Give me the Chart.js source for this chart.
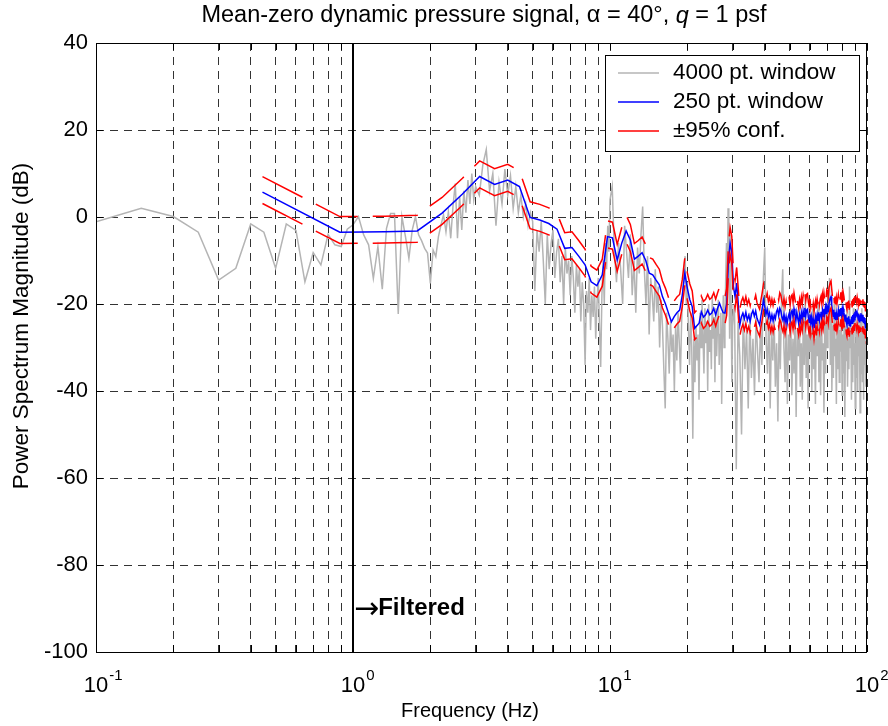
<!DOCTYPE html>
<html>
<head>
<meta charset="utf-8">
<script src="https://cdn.jsdelivr.net/npm/chart.js@4.4.1/dist/chart.umd.min.js"></script>
<style>
  html, body { margin: 0; padding: 0; background: #fff; }
  #wrap { width: 888px; height: 726px; }
</style>
</head>
<body>
<div id="wrap"><canvas id="psd" width="888" height="726"></canvas></div>
<script>
// x axis ticks (Hz) and the decade labels
const xTicks = [0.1, 0.2, 0.3, 0.4, 0.5, 0.6, 0.7, 0.8, 0.9,
  1, 2, 3, 4, 5, 6, 7, 8, 9, 10, 20, 30, 40, 50, 60, 70, 80, 90, 100];
const decadeTicks = [0.1, 1, 10, 100];
const decadeExp = ['-1', '0', '1', '2'];

// 250 pt. window spectrum (dB), one value per bin, bin k at k * coarseStep Hz
const coarseStep = 0.4444;
const coarseDb = [
  5.7, -3.5, -3.4, -3.2, 0.9, 5.3, 9.3, 7.5, 8.5, 7.0,
  -0.1, -0.7, -1.5, -2.8, -7.2, -7.0, -9.0, -11.0, -14.9, -15.8,
  -13.3, -4.5, -4.8, -9.9, -6.0, -3.2, -5.3, -9.7, -9.0, -8.2,
  -10.0, -12.9, -13.3, -14.5, -15.6, -18.3, -20.0, -22.1, -24.1, -22.9,
  -22.0, -21.4, -18.0, -12.9, -16.4, -19.0, -20.6, -25.6, -25.0, -24.4,
  -21.8, -23.0, -22.5, -21.4, -22.5, -22.1, -21.0, -22.5, -21.0, -19.8,
  -21.0, -22.0, -22.1, -20.0, -10.0, -6.0, -8.0, -16.0, -18.3, -15.2, -20.0,
  -24.8, -23.0, -22.1, -23.4, -21.9, -23.7, -22.6, -24.0, -22.3, -21.5,
  -22.8, -21.6, -23.3, -24.1, -24.8, -22.7, -21.0, -19.1, -20.6, -22.4,
  -21.2, -23.0, -22.1, -23.8, -22.5, -23.9, -22.6, -23.4, -21.8, -21.2,
  -22.7, -21.0, -21.6, -23.0, -23.8, -22.4, -24.3, -22.9, -24.6, -23.0,
  -22.2, -23.9, -21.9, -21.5, -23.2, -21.1, -22.5, -23.8, -21.9, -23.3,
  -24.5, -22.6, -23.9, -22.0, -23.4, -21.6, -22.9, -20.9, -22.8, -21.4,
  -21.2, -23.1, -24.2, -22.4, -24.4, -23.0, -24.9, -23.5, -25.4, -23.7,
  -22.8, -24.6, -22.6, -23.9, -21.9, -23.7, -22.4, -21.8, -23.3, -21.5,
  -22.9, -21.1, -22.5, -20.8, -22.2, -20.3, -20.6, -21.8, -19.9, -19.2,
  -18.6, -18.3, -20.1, -21.7, -22.8, -21.3, -23.5, -21.9, -23.7, -22.2,
  -23.5, -22.6, -21.5, -23.0, -21.2, -22.6, -20.9, -22.4, -21.3, -23.1,
  -21.1, -21.9, -23.2, -23.9, -22.4, -24.2, -24.8, -23.1, -24.5, -22.8,
  -24.9, -23.5, -25.2, -24.1, -22.9, -24.4, -22.5, -24.0, -22.2, -23.6,
  -21.8, -23.2, -21.5, -22.9, -22.0, -22.8, -23.7, -22.3, -24.1, -22.6,
  -23.8, -22.1, -23.4, -22.4, -23.9, -22.5, -24.2, -23.0, -24.5, -23.2,
  -25.4, -24.0, -26.5, -26.7
];

// 95% confidence limits sit a fixed number of dB around the 250 pt. spectrum
const confUpperDb = 3.6;
const confLowerDb = -2.6;

// 4000 pt. window spectrum (dB), read in four pieces: start Hz, step Hz, values
const fineDbA = [ // 0.10 .. 3.00 Hz
  -1.1, 2.0, 0.1, -3.5, -14.5, -11.8, -1.6, -3.5, -11.8, -1.6,
  -3.1, -14.9, -8.2, -11.0, -4.0, -6.4, -6.8, -2.8, -1.8, 0.1,
  -4.1, -6.4, -14.1, -6.8, -16.6, -2.6, 0.8, 0.8, -22.3, 0.1,
  -4.5, -9.5, -3.0, 0.1, -4.1, -5.5, -7.2, -8.3, -15.3, -7.6,
  -9.1, -4.5, -1.8, 0.5, -3.4, 1.2, -4.9, 2.5, 7.7, -4.9,
  4.7, -3.0, 6.0, 1.0, 8.5, 3.0, 10.0, 4.0, 7.0
];
const fineDbB = [ // 3.1 .. 10.0 Hz
  5.0, 12.0, 15.5, 6.0, 10.0, -2.0, 8.0, 3.0, 11.0, 5.0,
  9.5, 2.0, 7.0, 1.0, 5.0, 0.0, 3.0, -2.0, 1.0, -1.0,
  -17.0, -3.0, -8.0, -1.0, -10.0, -20.0, -4.0, -12.0, -6.0, -3.0,
  -14.0, -8.0, -5.0, -15.0, -9.0, -20.0, -7.0, -13.0, -10.0, -18.0,
  -9.0, -14.0, -22.0, -11.0, -16.0, -12.0, -24.0, -15.0, -20.0, -34.0,
  -17.0, -22.0, -14.0, -26.0, -18.0, -23.0, -16.0, -28.0, -20.0, -14.0,
  -25.0, -34.5, -18.0, -10.0, -20.0, -6.0, -12.0, -2.0, -8.0, 4.0
];
const fineDbC = [ // 10.2 .. 30.0 Hz
  7.0, -8.0, -15.0, -6.0, -12.0, -20.0, -2.0, -8.0, -14.0, -4.0,
  -18.0, -10.0, -22.0, -7.0, -13.0, -4.0, 2.4, -12.0, -20.0, -9.0,
  -27.0, -14.0, -18.0, -24.0, -12.0, -22.0, -16.0, -30.0, -19.0, -25.0,
  -35.0, -44.0, -22.0, -28.0, -36.0, -24.0, -31.0, -27.0, -40.0, -25.0,
  -33.0, -22.0, -29.0, -36.0, -24.0, -17.0, -12.0, -9.0, -20.0, -15.0,
  -26.0, -34.0, -22.0, -30.0, -51.0, -28.0, -38.0, -25.0, -33.0, -27.0,
  -42.0, -22.0, -30.0, -19.0, -27.0, -36.0, -21.0, -29.0, -24.0, -40.0,
  -20.0, -31.0, -26.0, -35.0, -18.0, -28.0, -23.0, -38.0, -21.0, -32.0,
  -25.0, -19.0, -34.0, -27.0, -22.0, -43.0, -26.0, -18.0, -30.0, -24.0,
  -14.0, -6.0, -18.0, 2.0, -8.0, -28.0, -4.0, -20.0, -38.0, -25.0
];
const fineDbD = [ // 30.5 .. 100 Hz
  -20, -58, -24, -32, -50, -22, -35, -26, -44, -22,
  -37, -28, -41, -23, -31, -38, -25, -34, -14, -7,
  -28, -36, -21, -44, -26, -33, -23, -39, -29, -47,
  -24, -35, -19, -12, -30, -38, -23, -43, -27, -33,
  -21, -41, -28, -36, -23, -46, -26, -32, -20, -39,
  -29, -42, -23, -34, -18, -37, -27, -44, -22, -31,
  -25, -40, -21, -35, -28, -43, -23, -32, -20, -38,
  -26, -41, -22, -33, -29, -45, -24, -36, -21, -30,
  -17, -26, -14, -34, -22, -40, -25, -37, -20, -32,
  -28, -43, -23, -35, -20, -38, -26, -31, -21, -41,
  -27, -36, -23, -46, -25, -33, -21, -39, -28, -35,
  -16, -30, -24, -42, -26, -38, -21, -34, -29, -44,
  -23, -37, -25, -40, -22, -32, -27, -45, -24, -36,
  -21, -38, -26, -42, -24, -34, -29, -39, -27, -37
];
const fineBands = [[0.10, 0.05, fineDbA], [3.1, 0.1, fineDbB], [10.2, 0.2, fineDbC], [30.5, 0.5, fineDbD]];

// filter marker
const filterFreq = 1;
const filterLabelDb = -90;

const FONT = '"Liberation Sans", Arial, Helvetica, sans-serif';
const fineColor = '#b4b4b4';
const coarseColor = '#0000ff';
const confColor = '#ff0000';

const finePts = [];
fineBands.forEach(([start, step, vals]) => {
  vals.forEach((v, i) => finePts.push({x: +(start + i * step).toFixed(4), y: v}));
});
const coarsePts = coarseDb.map((v, i) => ({x: (i + 1) * coarseStep, y: v}));
const upperPts = coarsePts.map(p => ({x: p.x, y: p.y + confUpperDb}));
const lowerPts = coarsePts.map(p => ({x: p.x, y: p.y + confLowerDb}));
const filterPts = [{x: filterFreq, y: -100}, {x: filterFreq, y: 40}];

const legendRows = [
  ['4000 pt. window', fineColor],
  ['250 pt. window', coarseColor],
  ['\u00b195% conf.', confColor]
];

const lineDefaults = {pointRadius: 0, pointHoverRadius: 0, tension: 0, fill: false};

const decorations = {
  id: 'decorations',
  afterDraw(chart) {
    const {ctx, chartArea: area, scales: {x, y}} = chart;
    ctx.save();

    // frame with inward ticks
    ctx.strokeStyle = '#000';
    ctx.lineWidth = 1;
    ctx.strokeRect(Math.round(area.left) + 0.5, Math.round(area.top) + 0.5,
      Math.round(area.right - area.left) - 1, Math.round(area.bottom - area.top));
    ctx.beginPath();
    xTicks.forEach(v => {
      const px = Math.round(x.getPixelForValue(v)) + 0.5;
      ctx.moveTo(px, area.bottom); ctx.lineTo(px, area.bottom - 7);
      ctx.moveTo(px, area.top); ctx.lineTo(px, area.top + 7);
    });
    for (let v = -100; v <= 40; v += 20) {
      const py = Math.round(y.getPixelForValue(v)) + 0.5;
      ctx.moveTo(area.left, py); ctx.lineTo(area.left + 7, py);
      ctx.moveTo(area.right, py); ctx.lineTo(area.right - 7, py);
    }
    ctx.stroke();

    // x decade labels 10^n
    ctx.fillStyle = '#000';
    decadeTicks.forEach((v, i) => {
      const px = x.getPixelForValue(v);
      ctx.font = '22px ' + FONT;
      ctx.textAlign = 'center';
      ctx.textBaseline = 'alphabetic';
      ctx.fillText('10', px, 692);
      const w = ctx.measureText('10').width;
      ctx.font = '15px ' + FONT;
      ctx.textAlign = 'left';
      ctx.fillText(decadeExp[i], px + w / 2 + 1, 680);
    });

    // axis titles
    ctx.textAlign = 'center';
    ctx.textBaseline = 'middle';
    ctx.font = '20px ' + FONT;
    ctx.fillText('Frequency (Hz)', 470, 711);
    ctx.font = '22.5px ' + FONT;
    ctx.save();
    ctx.translate(22, 326);
    ctx.rotate(-Math.PI / 2);
    ctx.fillText('Power Spectrum Magnitude (dB)', 0, 0);
    ctx.restore();

    // title with italic q
    const tf = '23.5px ' + FONT;
    const parts = [
      ['Mean-zero dynamic pressure signal, ', tf],
      ['\u03b1', tf],
      [' = 40\u00b0, ', tf],
      ['q', 'italic ' + tf],
      [' = 1 psf', tf]
    ];
    let total = 0;
    parts.forEach(p => { ctx.font = p[1]; total += ctx.measureText(p[0]).width; });
    let tx = 484 - total / 2;
    ctx.textAlign = 'left';
    parts.forEach(p => { ctx.font = p[1]; ctx.fillText(p[0], tx, 16); tx += ctx.measureText(p[0]).width; });

    // filtered marker text: arrow in DejaVu (full size glyph), word in bold sans
    const fx = x.getPixelForValue(filterFreq) + 1;
    const fy = y.getPixelForValue(filterLabelDb);
    ctx.font = '30px "DejaVu Sans", sans-serif';
    ctx.fillText('\u2192', fx, fy + 2);
    const aw = ctx.measureText('\u2192').width;
    ctx.font = 'bold 24px ' + FONT;
    ctx.fillText('Filtered', fx + aw - 1, fy);

    // legend box
    const lx = area.right - 262, ly = area.top + 12, lw = 254, lh = 96;
    ctx.fillStyle = '#fff';
    ctx.fillRect(lx, ly, lw, lh);
    ctx.strokeStyle = '#000';
    ctx.lineWidth = 1;
    ctx.strokeRect(lx + 0.5, ly + 0.5, lw, lh);
    ctx.font = '22.5px ' + FONT;
    ctx.textBaseline = 'middle';
    legendRows.forEach(([label, color], i) => {
      const ry = ly + 18 + i * 29;
      ctx.strokeStyle = color;
      ctx.lineWidth = 1.6;
      ctx.beginPath();
      ctx.moveTo(lx + 13, ry);
      ctx.lineTo(lx + 54, ry);
      ctx.stroke();
      ctx.fillStyle = '#000';
      ctx.fillText(label, lx + 68, ry);
    });

    ctx.restore();
  }
};

new Chart(document.getElementById('psd'), {
  type: 'line',
  data: {
    datasets: [
      {...lineDefaults, label: 'filter', data: filterPts, borderColor: '#000', borderWidth: 2, order: 0},
      {...lineDefaults, label: '+95% conf.', data: upperPts, borderColor: confColor, borderWidth: 1.5, borderDash: [45, 15], order: 1},
      {...lineDefaults, label: '-95% conf.', data: lowerPts, borderColor: confColor, borderWidth: 1.5, borderDash: [45, 15], order: 1},
      {...lineDefaults, label: '250 pt. window', data: coarsePts, borderColor: coarseColor, borderWidth: 1.5, order: 2},
      {...lineDefaults, label: '4000 pt. window', data: finePts, borderColor: fineColor, borderWidth: 1.5, order: 3}
    ]
  },
  options: {
    responsive: false,
    animation: false,
    events: [],
    layout: {padding: {top: 43, right: 21, left: 0, bottom: 0}},
    plugins: {legend: {display: false}, title: {display: false}, tooltip: {enabled: false}},
    scales: {
      x: {
        type: 'logarithmic',
        min: 0.1,
        max: 100,
        afterBuildTicks: s => { s.ticks = xTicks.map(v => ({value: v})); },
        afterFit: s => { s.height = 74; },
        ticks: {display: false},
        grid: {color: 'rgba(0,0,0,0.8)', lineWidth: 1, drawTicks: false},
        border: {display: false, dash: [8, 6]}
      },
      y: {
        min: -100,
        max: 40,
        afterFit: s => { s.width = 96; },
        ticks: {stepSize: 20, color: '#000', padding: 8, font: {family: FONT, size: 22}},
        grid: {color: 'rgba(0,0,0,0.8)', lineWidth: 1, drawTicks: false},
        border: {display: false, dash: [8, 6]}
      }
    }
  },
  plugins: [decorations]
});
</script>
</body>
</html>
